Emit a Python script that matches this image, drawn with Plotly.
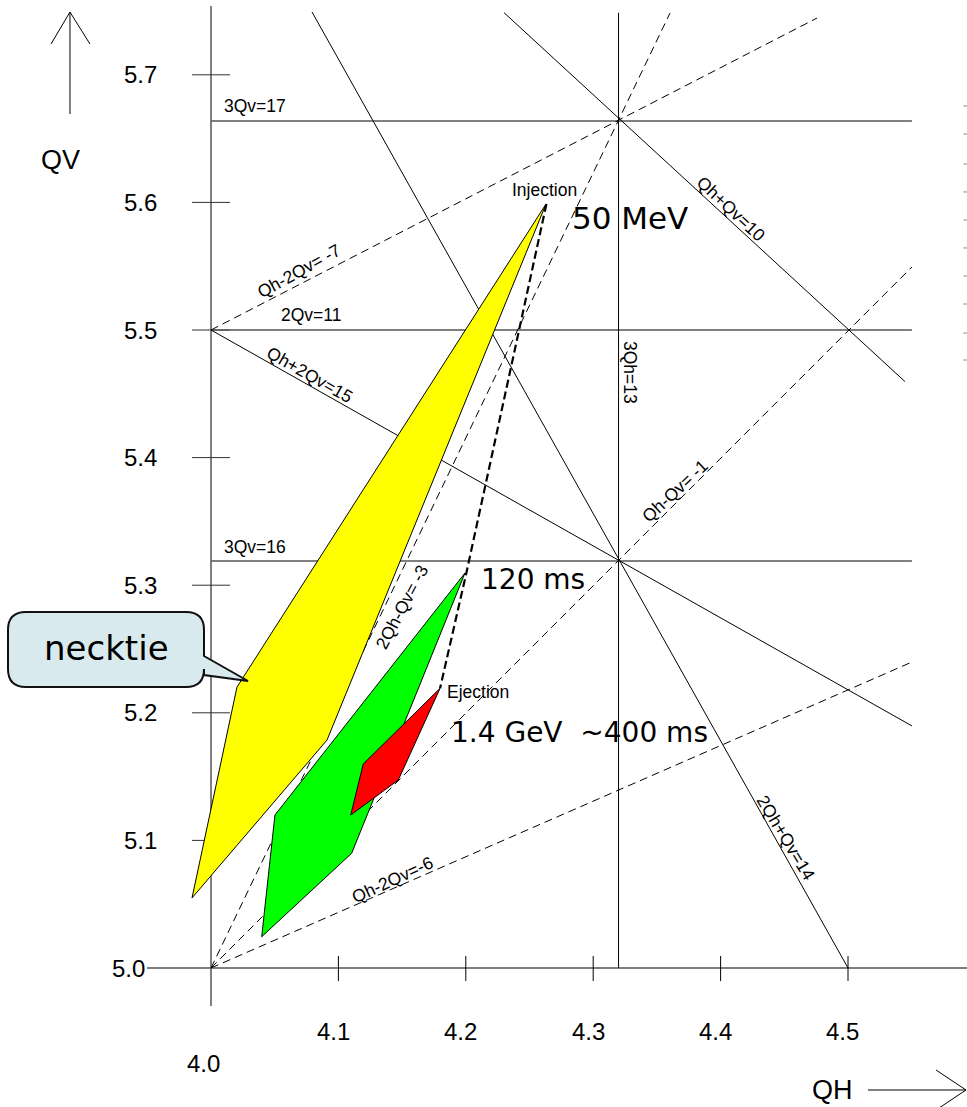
import plotly.graph_objects as go

# ---------------- data (tune space: QH, QV) ----------------
qh_ticks = [4.1, 4.2, 4.3, 4.4, 4.5]
qh_tick_labels = ["4.1", "4.2", "4.3", "4.4", "4.5"]
qv_ticks = [5.1, 5.2, 5.3, 5.4, 5.5, 5.6, 5.7]
qv_tick_labels = ["5.1", "5.2", "5.3", "5.4", "5.5", "5.6", "5.7"]

# solid resonance lines (end points)
solid_names = ["3Qv=17", "2Qv=11", "3Qv=16", "3Qh=13", "Qh+Qv=10", "Qh+2Qv=15", "2Qh+Qv=14"]
solid_qh = [[4.0, 4.5502], [4.0, 4.5502], [4.0, 4.5502], [4.3199, 4.3199],
            [4.2300, 4.5447], [4.0, 4.5502], [4.0793, 4.5000]]
solid_qv = [[5.6638, 5.6638], [5.5, 5.5], [5.3190, 5.3190], [5.0, 5.7487],
            [5.7487, 5.4596], [5.5, 5.1897], [5.7492, 5.0]]

# dashed resonance lines
dashed_names = ["2Qh-Qv=3", "Qh-Qv=-1", "Qh-2Qv=-6", "Qh-2Qv=-7"]
dashed_qh = [[4.0, 4.3603], [4.0, 4.5502], [4.0, 4.5502], [4.0, 4.4757]]
dashed_qv = [[5.0, 5.7484], [5.0, 5.5494], [5.0, 5.2398], [5.5, 5.7445]]

# working-point areas
necktie_qh = [4.2630, 4.0204, 3.9851, 4.0911]
necktie_qv = [5.5988, 5.2202, 5.0549, 5.1787]
mid_qh = [4.1994, 4.1104, 4.0398, 4.0502]
mid_qv = [5.3096, 5.0899, 5.0245, 5.1199]
eject_qh = [4.1798, 4.1470, 4.1097, 4.1195]
eject_qv = [5.2192, 5.1473, 5.1199, 5.1599]

# tune path injection -> 120 ms -> ejection
path_qh = [4.2633, 4.2006, 4.1798]
path_qv = [5.5988, 5.3103, 5.2192]

# faint marks at the right edge of the slide
edge_qv = [5.6756, 5.6536, 5.6301, 5.6082, 5.5862, 5.5643, 5.5423, 5.5204, 5.4976, 5.4765]

# ---------------- figure ----------------
X0, X1 = 3.83438, 4.59341
Y0, Y1 = 4.89107, 5.75862
ARIAL = "Liberation Sans, Arial, sans-serif"
COMIC = "Comic Sans MS, DejaVu Sans, sans-serif"

fig = go.Figure()

def seg(xs, ys, color="black", width=1, dash="solid"):
    fig.add_trace(go.Scatter(x=xs, y=ys, mode="lines",
                             line=dict(color=color, width=width, dash=dash),
                             hoverinfo="skip", showlegend=False))

# axes
seg([4.0, 4.0], [4.9702, 5.7539])
seg([3.9498, X1], [5.0, 5.0], color="#555555", width=1.5)
for v in qv_ticks:
    seg([3.9851, 4.0149], [v, v], color="#333333")
for v in qh_ticks:
    seg([v, v], [4.9898, 5.0094])

# resonance lines
for name, xs, ys in zip(solid_names, solid_qh, solid_qv):
    horiz = ys[0] == ys[1]
    seg(xs, ys, color="#555555" if horiz else "black", width=1.5 if horiz else 1)
for name, xs, ys in zip(dashed_names, dashed_qh, dashed_qv):
    seg(xs, ys, dash="8px,5px")

# areas
def area(xs, ys, color):
    fig.add_trace(go.Scatter(x=xs + xs[:1], y=ys + ys[:1], mode="lines", fill="toself",
                             fillcolor=color, line=dict(color="black", width=1),
                             hoverinfo="skip", showlegend=False))

area(necktie_qh, necktie_qv, "#ffff00")
area(mid_qh, mid_qv, "#00ff00")
area(eject_qh, eject_qv, "#ff0000")

seg(path_qh, path_qv, width=2.2, dash="8px,4px")

fig.add_trace(go.Scatter(x=[4.5922] * len(edge_qv), y=edge_qv, mode="markers",
                         marker=dict(symbol="line-ew", size=3, line=dict(color="#888888", width=1)),
                         hoverinfo="skip", showlegend=False))

# axis arrows
seg([3.8893, 3.8893], [5.6693, 5.7492])
seg([3.8744, 3.8893, 3.9050], [5.7241, 5.7492, 5.7241])
seg([4.5157, 4.5926], [4.9044, 4.9044])
seg([4.5691, 4.5926, 4.5691], [4.9201, 4.9044, 4.8887])

# ---------------- text ----------------
def label(text, x, y, size, angle=0, family=ARIAL):
    fig.add_annotation(x=x, y=y, xref="x", yref="y", text=text, showarrow=False,
                       font=dict(family=family, size=size, color="black"),
                       textangle=angle, xanchor="center", yanchor="middle")

for v, t in zip(qv_ticks, qv_tick_labels):
    label(t, 3.9443, v, 24)
label("5.0", 3.9356, 5.0, 24)
for v, t in zip(qh_ticks, qh_tick_labels):
    label(t, v - 0.004, 4.9506, 24)
label("4.0", 3.9945, 4.9255, 24)
label("QV", 3.8815, 5.6332, 27)
label("QH", 4.4882, 4.9044, 27)

label("3Qv=17", 4.0345, 5.6755, 17.5)
label("2Qv=11", 4.0785, 5.5118, 17.5)
label("3Qv=16", 4.0345, 5.3299, 17.5)
label("Qh-2Qv= -7", 4.0691, 5.5462, 17.5, -29)
label("Qh+2Qv=15", 4.0777, 5.4647, 17.5, 29.5)
label("Qh+Qv=10", 4.4082, 5.5948, 17.5, 43)
label("3Qh=13", 4.3289, 5.4671, 17.5, 90)
label("Qh-Qv= -1", 4.3642, 5.3738, 17.5, -43)
label("2Qh-Qv= -3", 4.1499, 5.2829, 17.5, -62)
label("Qh-2Qv=-6", 4.1421, 5.0690, 17.5, -25)
label("2Qh+Qv=14", 4.4513, 5.1019, 17.5, 59)
label("Injection", 4.2614, 5.6097, 17.5)
label("Ejection", 4.2096, 5.2163, 17.5)

label("50 MeV", 4.3289, 5.5878, 31, family=COMIC)
label("120 ms", 4.2527, 5.3041, 28, family=COMIC)
label("1.4 GeV\u00a0 ~400 ms", 4.2896, 5.1842, 28, family=COMIC)

# callout "necktie"
W, H = 967, 1107
def P(px, py):
    return f"{px / W:.5f},{1 - py / H:.5f}"
l, r, t, b, rad = 8, 204, 612, 687, 18
callout = (f"M{P(l + rad, t)} L{P(r - rad, t)} Q{P(r, t)} {P(r, t + rad)} "
           f"L{P(r, 656)} L{P(248, 681)} L{P(r, 675)} L{P(r, b - rad)} "
           f"Q{P(r, b)} {P(r - rad, b)} L{P(l + rad, b)} Q{P(l, b)} {P(l, b - rad)} "
           f"L{P(l, t + rad)} Q{P(l, t)} {P(l + rad, t)} Z")
fig.add_shape(type="path", path=callout, xref="paper", yref="paper",
              fillcolor="#d8eaee", line=dict(color="#111111", width=2), layer="above")
fig.add_annotation(x=106 / W, y=1 - 648 / H, xref="paper", yref="paper", text="necktie",
                   showarrow=False, font=dict(family=COMIC, size=34, color="black"),
                   xanchor="center", yanchor="middle")

fig.update_layout(
    width=W, height=H, margin=dict(l=0, r=0, t=0, b=0),
    paper_bgcolor="white", plot_bgcolor="white", showlegend=False,
    xaxis=dict(range=[X0, X1], visible=False, fixedrange=True),
    yaxis=dict(range=[Y0, Y1], visible=False, fixedrange=True),
)

fig.write_html("out.html", config={"displayModeBar": False},
               post_script="document.body.style.margin='0px';")
